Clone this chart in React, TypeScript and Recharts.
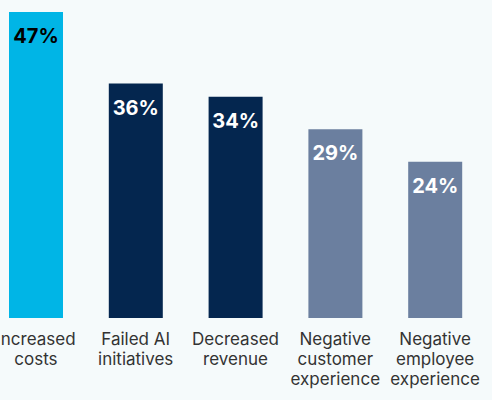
import { BarChart, Bar, XAxis, YAxis, Cell, LabelList } from 'recharts';

const categories = ['Increased costs', 'Failed AI initiatives', 'Decreased revenue', 'Negative customer experience', 'Negative employee experience'];
const tickLines = [
  ['Increased', 'costs'],
  ['Failed AI', 'initiatives'],
  ['Decreased', 'revenue'],
  ['Negative', 'customer', 'experience'],
  ['Negative', 'employee', 'experience'],
];
const values = [47, 36, 34, 29, 24];
const barColors = ['#00b5e6', '#04264f', '#04264f', '#6b7f9f', '#6b7f9f'];
const labelColors = ['#000000', '#ffffff', '#ffffff', '#ffffff', '#ffffff'];

const data = categories.map((name, i) => ({ name, value: values[i], idx: i }));

const FONT = 'Inter, "Noto Sans", sans-serif';

function CategoryTick(props: any) {
  const { x, y, payload } = props;
  const lines = tickLines[payload.index] ?? [payload.value];
  return (
    <text x={x} y={y} textAnchor="middle" fill="#333333" fontSize={17} fontFamily={FONT}>
      {lines.map((l, i) => (
        <tspan key={i} x={x} dy={i === 0 ? 27 : 20}>
          {l}
        </tspan>
      ))}
    </text>
  );
}

function ValueLabel(props: any) {
  const { x, y, width, value, index } = props;
  return (
    <text
      x={x + width / 2}
      y={y + 31}
      textAnchor="middle"
      fill={labelColors[index]}
      fontSize={20}
      fontWeight={700}
      fontFamily={FONT}
    >
      {`${value}%`}
    </text>
  );
}

export default function App() {
  return (
    <div style={{ position: 'absolute', left: 0, top: 0, width: 492, height: 400, background: '#f5fafb', overflow: 'hidden' }}>
      <div style={{ position: 'absolute', left: -14, top: 0 }}>
        <BarChart width={499} height={400} data={data} margin={{ top: 12, right: 0, bottom: 52, left: 0 }}>
          <XAxis dataKey="name" height={30} axisLine={false} tickLine={false} tickSize={0} tickMargin={0} interval={0} tick={<CategoryTick />} />
          <YAxis hide domain={[0, 47]} />
          <Bar dataKey="value" barSize={54} isAnimationActive={false}>
            {data.map((d, i) => (
              <Cell key={d.name} fill={barColors[i]} />
            ))}
            <LabelList dataKey="value" content={<ValueLabel />} />
          </Bar>
        </BarChart>
      </div>
    </div>
  );
}
